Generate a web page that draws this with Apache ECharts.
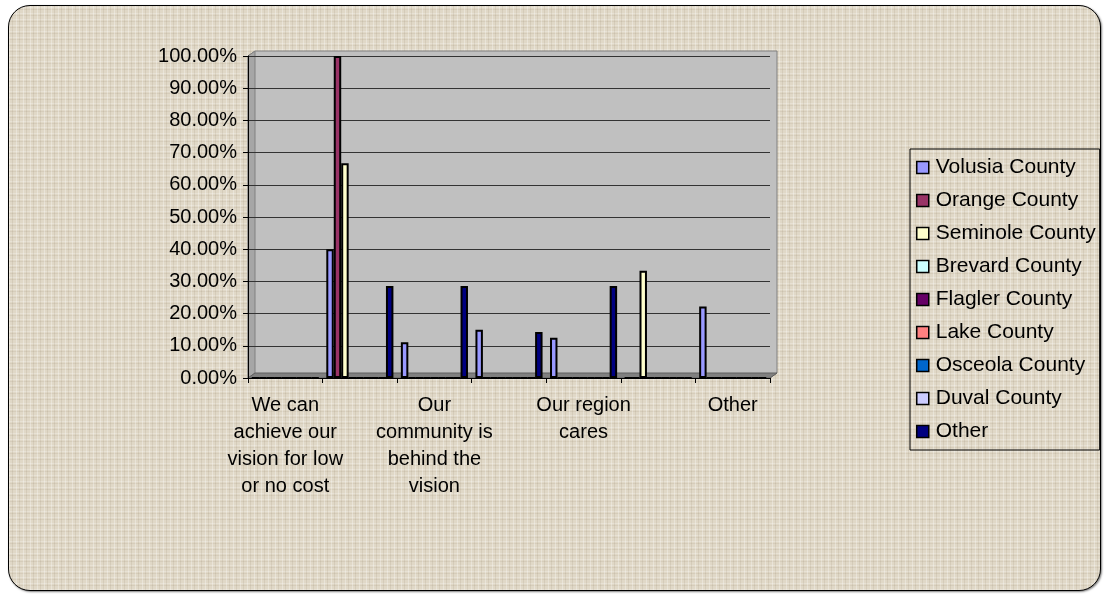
<!DOCTYPE html>
<html>
<head>
<meta charset="utf-8">
<script src="https://cdn.jsdelivr.net/npm/echarts@6/dist/echarts.min.js"></script>
<style>
  html, body { margin: 0; padding: 0; background: #fff; }
  #frame {
    position: absolute; left: 8px; top: 5px; width: 1091px; height: 584px;
    border: 1.5px solid #000; border-radius: 22px;
    box-shadow: 1px 1px 2px rgba(0,0,0,0.5);
    background:
      repeating-linear-gradient(90deg, rgba(255,255,255,0.30) 0 1px, transparent 1px 3px, rgba(110,90,60,0.10) 3px 4px, transparent 4px 7px),
      repeating-linear-gradient(0deg, rgba(255,255,255,0.24) 0 1px, transparent 1px 4px, rgba(110,90,60,0.09) 4px 5px, transparent 5px 6px),
      #E0D8C7;
  }
  #chart { position: absolute; left: 0; top: 0; width: 1107px; height: 594px; }
</style>
</head>
<body>
<div id="frame"></div>
<div id="chart"></div>
<script>
// categories (only every other one carries a label in the original)
var categories = [
  'We can\nachieve our\nvision for low\nor no cost',
  '',
  'Our\ncommunity is\nbehind the\nvision',
  '',
  'Our region\ncares',
  '',
  'Other'
]
var seriesNames = [
  'Volusia County', 'Orange County', 'Seminole County', 'Brevard County',
  'Flagler County', 'Lake County', 'Osceola County', 'Duval County', 'Other'
]
var seriesColors = [
  '#9999FF', '#993366', '#FFFFCC', '#CCFFFF',
  '#660066', '#FF8080', '#0066CC', '#CCCCFF', '#000080'
]
// values in percent
var volusia = [0, 40, 11.11, 15, 12.5, 0, 22.22]
var orange = [0, 100, 0, 0, 0, 0, 0]
var seminole = [0, 66.67, 0, 0, 0, 33.33, 0]
var brevard = [0, 0, 0, 0, 0, 0, 0]
var flagler = [0, 0, 0, 0, 0, 0, 0]
var lake = [0, 0, 0, 0, 0, 0, 0]
var osceola = [0, 0, 0, 0, 0, 0, 0]
var duval = [0, 0, 0, 0, 0, 0, 0]
var other = [0, 28.57, 28.57, 14.29, 28.57, 0, 0]
var seriesValues = [volusia, orange, seminole, brevard, flagler, lake, osceola, duval, other]

var font = '"Liberation Sans", Arial, sans-serif'
var chart = echarts.init(document.getElementById('chart'))

var series = seriesNames.map(function (name, i) {
  return {
    name: name,
    type: 'bar',
    data: seriesValues[i],
    barGap: '0%',
    barCategoryGap: '10%',
    itemStyle: {
      color: seriesColors[i],
      borderColor: '#000',
      borderWidth: 2
    },
    emphasis: { disabled: true }
  }
})

chart.setOption({
  animation: false,
  textStyle: { fontFamily: font },
  // 3d-ish walls behind the plot
  graphic: [
    {
      type: 'polygon', z: -10, silent: true,
      shape: { points: [[248, 56], [255, 51], [777, 51], [777, 373], [770, 378], [248, 378]] },
      style: { fill: '#C0C0C0', stroke: '#808080', lineWidth: 1 }
    },
    {
      type: 'polygon', z: -9, silent: true,
      shape: { points: [[248, 56], [255, 51], [255, 373], [248, 378]] },
      style: { fill: '#A6A6A6', stroke: '#808080', lineWidth: 1 }
    },
    {
      type: 'polygon', z: -9, silent: true,
      shape: { points: [[248, 378], [255, 373], [777, 373], [770, 378]] },
      style: { fill: '#808080', stroke: '#606060', lineWidth: 1 }
    }
  ],
  grid: {
    left: 248,
    right: 337,
    top: 56,
    bottom: 216
  },
  legend: {
    orient: 'vertical',
    left: 910,
    top: 149,
    padding: [8, 4, 8, 6],
    itemGap: 12,
    itemWidth: 12,
    itemHeight: 12,
    icon: 'rect',
    borderColor: '#000',
    borderWidth: 1,
    itemStyle: { borderColor: '#000', borderWidth: 1.5 },
    textStyle: { fontSize: 21, color: '#000', fontFamily: font, lineHeight: 21, padding: [0, 0, 0, 2] },
    data: seriesNames
  },
  xAxis: {
    type: 'category',
    data: categories,
    boundaryGap: true,
    axisLine: { lineStyle: { color: '#000', width: 1 } },
    axisTick: { show: true, interval: 0, length: 5, lineStyle: { color: '#000' } },
    axisLabel: {
      interval: 1,
      margin: 14,
      color: '#000',
      fontSize: 20,
      lineHeight: 27,
      fontFamily: font,
      align: 'center'
    },
    splitLine: { show: false }
  },
  yAxis: {
    type: 'value',
    min: 0,
    max: 100,
    interval: 10,
    axisLine: { show: true, lineStyle: { color: '#000', width: 1 } },
    axisTick: { show: true, length: 5, lineStyle: { color: '#000' } },
    axisLabel: {
      margin: 11,
      color: '#000',
      fontSize: 20,
      fontFamily: font,
      formatter: function (v) { return v.toFixed(2) + '%' }
    },
    splitLine: { show: true, lineStyle: { color: '#333', width: 1 } }
  },
  series: series
})
</script>
</body>
</html>
